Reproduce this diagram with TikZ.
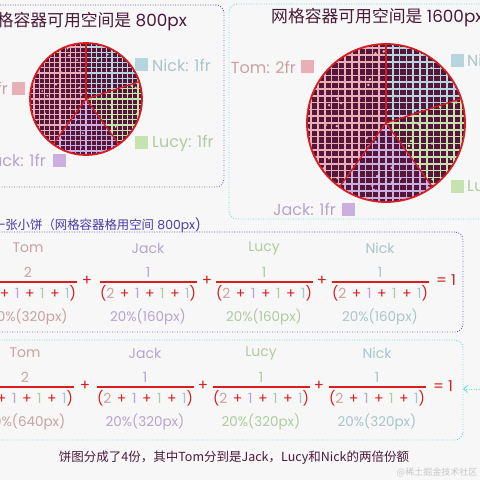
\documentclass[tikz,border=0pt]{standalone}
\usepackage{fontspec}
\setmainfont{Poppins}
\newfontfamily\cjk{Noto Sans CJK SC}
\usetikzlibrary{arrows.meta}
\definecolor{bgc}{HTML}{F7F7F7}
\definecolor{maroon}{HTML}{4A1A3A}
\definecolor{piebase}{HTML}{55163A}
\definecolor{piered}{HTML}{D41E24}
\definecolor{tomsq}{HTML}{E8B0B6}
\definecolor{nicksq}{HTML}{B5D6DF}
\definecolor{lucysq}{HTML}{C6E2AE}
\definecolor{jacksq}{HTML}{CBAFE0}
\definecolor{tomc}{HTML}{C9A2A2}
\definecolor{nickc}{HTML}{A8C5CD}
\definecolor{lucyc}{HTML}{AFCB9F}
\definecolor{jackc}{HTML}{B8A3CF}
\definecolor{eqred}{HTML}{D81E1E}
\definecolor{purpdot}{HTML}{6A5AC8}
\definecolor{cyandot}{HTML}{66E3E3}
\definecolor{headc}{HTML}{4A3AA8}
\tikzset{
  boxbase/.style={draw, rounded corners=8pt, inner sep=0pt, outer sep=0pt, line width=0.9pt, dash pattern=on 0.9pt off 1.6pt},
  pbox/.style={boxbase, purpdot},
  cbox/.style={boxbase, cyandot},
  legtext/.style={inner sep=0pt, font=\fontsize{16}{18}\selectfont},
  sq/.style={inner sep=0pt, minimum size=13pt, fill=#1},
  title/.style={inner sep=0pt, text=maroon, font=\fontsize{16.8}{18}\selectfont},
  lab/.style={inner sep=0pt, font=\fontsize{14}{16}\selectfont},
  numer/.style={inner sep=0pt, font=\fontsize{14}{16}\selectfont},
  pct/.style={inner sep=0pt, font=\fontsize{13.5}{16}\selectfont},
  den/.style={inner sep=0pt, font=\fontsize{14}{16}\selectfont},
  opr/.style={inner sep=0pt, text=eqred, font=\fontsize{15}{16}\selectfont},
  fbar/.style={eqred, line width=1.5pt},
}
% #1 cx, #2 cy, #3 r, #4 start angle, #5 end angle (counter-clockwise, as seen), #6 colour, #7 spacing, #8 line width, #9 dot radius
\newcommand\mypie[9]{%
  \begin{scope}
    \clip (#1,#2) -- plot[domain=#4:#5, samples=60, variable=\t] ({#1+#3*cos(\t)},{#2-#3*sin(\t)}) -- cycle;
    \fill[piebase] (#1,#2) circle[radius=#3];
    \foreach \k in {-17,...,17} {
      \draw[#6, line width=#8] ({#1+\k*#7},{#2-#3}) -- ({#1+\k*#7},{#2+#3});
      \draw[#6, line width=#8] ({#1-#3},{#2+\k*#7}) -- ({#1+#3},{#2+\k*#7});
    }
    \foreach \i in {1,...,50} {
      \fill[#6] ({#1+#3*(2*rnd-1)},{#2+#3*(2*rnd-1)}) circle[radius=#9];
    }
  \end{scope}}
\newcommand\pieborder[3]{%
  \draw[piered, line width=1.8pt] (#1,#2) circle[radius=#3];
  \foreach \a in {90,234,306,18} {\draw[piered, line width=1.3pt] (#1,#2) -- ({#1+#3*cos(\a)},{#2-#3*sin(\a)});}}
\newcommand\dentext{\makebox[96pt][s]{\textcolor{eqred}{(}\textcolor{tomc}{2} \textcolor{eqred}{+} \textcolor{jackc}{1} \textcolor{eqred}{+} \textcolor{lucyc}{1} \textcolor{eqred}{+} \textcolor{nickc}{1}\textcolor{eqred}{)}}}
% #1 name, #2 cx, #3 ybar, #4 label, #5 numerator, #6 percentage, #7 colour
\newcommand\fracblock[7]{%
  \node[lab, text=#7] (#1l) at (#2,#3-34) {#4};
  \node[numer, text=#7] (#1n) at (#2,#3-10) {#5};
  \draw[fbar] (#2-48.5,#3) -- (#2+48.5,#3);
  \node[den] (#1d) at (#2,#3+11) {\dentext};
  \node[pct, text=#7] (#1p) at (#2,#3+35) {#6};}
\begin{document}
\begin{tikzpicture}[x=1pt,y=-1pt]
\useasboundingbox (0,0) rectangle (480,480);
\clip (0,0) rectangle (480,480);
\fill[bgc] (0,0) rectangle (480,480);
\pgfmathsetseed{7}
% boxes
\node[pbox, minimum width=244pt, minimum height=182pt] (boxA) at (102,96) {};
\node[cbox, minimum width=271pt, minimum height=215pt] (boxB) at (364.5,111.5) {};
\node[pbox, minimum width=483pt, minimum height=100pt] (boxC) at (221.5,282) {};
\node[cbox, minimum width=483pt, minimum height=100pt] (boxD) at (221.5,390) {};
\coordinate (arrS) at (482,389);
\draw[cyandot, line width=0.9pt, dash pattern=on 0.9pt off 1.6pt, -{Straight Barb[length=4pt,width=7pt]}] (arrS) -- (boxD.east |- arrS);
% titles
\node[title, anchor=east] (tA) at (187,22) {{\cjk 网格容器可用空间是} 800px};
\node[title, anchor=west] (tB) at (271,18) {{\cjk 网格容器可用空间是} 1600px};
% small pie
\mypie{86}{99}{56}{90}{234}{tomsq}{5.2}{1.05pt}{1}
\mypie{86}{99}{56}{234}{306}{jacksq}{5.2}{1.05pt}{1}
\mypie{86}{99}{56}{306}{378}{lucysq}{5.2}{1.05pt}{1}
\mypie{86}{99}{56}{18}{90}{nicksq}{5.2}{1.05pt}{1}
\pieborder{86}{99}{56}
% big pie
\mypie{386}{123}{79}{90}{234}{tomsq}{6.8}{1.5pt}{1.4}
\mypie{386}{123}{79}{234}{306}{jacksq}{6.8}{1.5pt}{1.4}
\mypie{386}{123}{79}{306}{378}{lucysq}{6.8}{1.5pt}{1.4}
\mypie{386}{123}{79}{18}{90}{nicksq}{6.8}{1.5pt}{1.4}
\pieborder{386}{123}{79}
% legends left
\node[legtext, text=tomc, anchor=east] (lAt) at (8,88) {Tom: 2fr};
\node[sq=tomsq] (lAts) at (18.5,88) {};
\node[sq=nicksq] (lAns) at (141.5,64.5) {};
\node[legtext, text=nickc, anchor=west] (lAn) at (152,65) {Nick: 1fr};
\node[sq=lucysq] (lAls) at (141.5,142.5) {};
\node[legtext, text=lucyc, anchor=west] (lAl) at (152,143) {Lucy: 1fr};
\node[legtext, text=jackc, anchor=east] (lAj) at (46,160) {Jack: 1fr};
\node[sq=jacksq] (lAjs) at (59.5,160) {};
% legends right
\node[legtext, text=tomc, anchor=east] (lBt) at (296,67) {Tom: 2fr};
\node[sq=tomsq] (lBts) at (307,66.5) {};
\node[sq=nicksq] (lBns) at (457,60) {};
\node[legtext, text=nickc, anchor=west] (lBn) at (467,60) {Nick: 1fr};
\node[sq=lucysq] (lBls) at (457,186.5) {};
\node[legtext, text=lucyc, anchor=west] (lBl) at (467,187) {Lucy: 1fr};
\node[legtext, text=jackc, anchor=east] (lBj) at (336,209) {Jack: 1fr};
\node[sq=jacksq] (lBjs) at (348.5,209.5) {};
% header of middle row
\node[inner sep=0pt, anchor=east, text=headc, font=\fontsize{12.4}{14}\selectfont] (hdr) at (201,225) {{\cjk 一张小饼（网格容器格用空间} 800px)};
% row 1
\fracblock{rAt}{28}{282}{Tom}{2}{40\%(320px)}{tomc}
\node[opr] (rAp1) at (87,281) {+};
\fracblock{rAj}{148}{282}{Jack}{1}{20\%(160px)}{jackc}
\node[opr] (rAp2) at (207,281) {+};
\fracblock{rAl}{264}{282}{Lucy}{1}{20\%(160px)}{lucyc}
\node[opr] (rAp3) at (322,281) {+};
\fracblock{rAn}{380}{282}{Nick}{1}{20\%(160px)}{nickc}
\node[opr] (rAeq) at (446,280) {= 1};
% row 2
\fracblock{rBt}{25}{387}{Tom}{2}{40\%(640px)}{tomc}
\node[opr] (rBp1) at (85,386) {+};
\fracblock{rBj}{145}{387}{Jack}{1}{20\%(320px)}{jackc}
\node[opr] (rBp2) at (203,386) {+};
\fracblock{rBl}{261}{387}{Lucy}{1}{20\%(320px)}{lucyc}
\node[opr] (rBp3) at (319,386) {+};
\fracblock{rBn}{377}{387}{Nick}{1}{20\%(320px)}{nickc}
\node[opr] (rBeq) at (443,386) {= 1};
% caption
\node[inner sep=0pt, text=maroon, font=\cjk\fontsize{12.5}{14}\selectfont] (cap) at (234,458) {饼图分成了4份，其中Tom分到是Jack，Lucy和Nick的两倍份额};
\node[inner sep=0pt, text=black!22, font=\cjk\fontsize{9}{10}\selectfont] (wm) at (437,472) {@稀土掘金技术社区};
\end{tikzpicture}
\end{document}
